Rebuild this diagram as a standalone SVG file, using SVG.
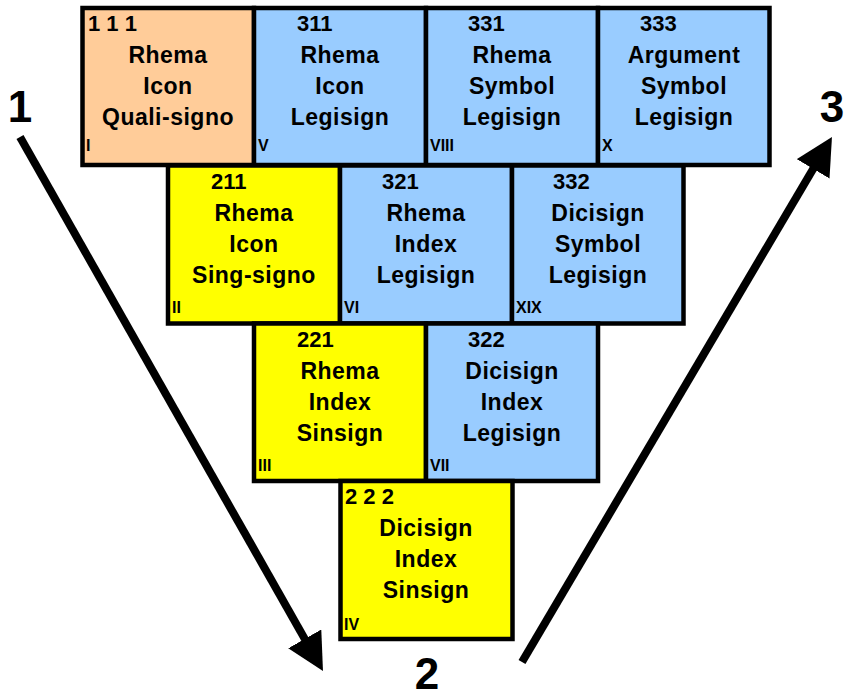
<svg xmlns="http://www.w3.org/2000/svg" width="850" height="698" viewBox="0 0 850 698">
<style>
.box{stroke:#000;stroke-width:4.5}
.o{fill:#FFCC99}.b{fill:#99CCFF}.y{fill:#FFFF00}
text{font-family:"Liberation Sans",Arial,sans-serif;font-weight:bold;fill:#000}
.num{font-size:22px}
.nm{font-size:23px;text-anchor:middle;letter-spacing:0.5px}
.rn{font-size:16px}
.big{font-size:44px;text-anchor:middle}
.arr{stroke:#000;stroke-width:8;fill:none}
</style>
<defs>
<marker id="ah" viewBox="0 0 37 38" refX="6" refY="19" markerWidth="37" markerHeight="38" markerUnits="userSpaceOnUse" orient="auto">
<path d="M0,0 L37,19 L0,38 z" fill="#000"/>
</marker>
</defs>
<rect width="850" height="698" fill="#fff"/>

<g id="n111"><rect class="box o" x="82.5" y="8" width="171.5" height="157"/>
<text class="num" x="88" y="31">1 1 1</text>
<text class="nm" x="168" y="63">Rhema</text><text class="nm" x="168" y="94">Icon</text><text class="nm" x="168" y="125">Quali-signo</text>
<text class="rn" x="86" y="151">I</text></g>

<g id="n311"><rect class="box b" x="254" y="8" width="172" height="157"/>
<text class="num" x="297" y="31">311</text>
<text class="nm" x="340" y="63">Rhema</text><text class="nm" x="340" y="94">Icon</text><text class="nm" x="340" y="125">Legisign</text>
<text class="rn" x="258" y="151">V</text></g>

<g id="n331"><rect class="box b" x="426" y="8" width="172" height="157"/>
<text class="num" x="468" y="31">331</text>
<text class="nm" x="512" y="63">Rhema</text><text class="nm" x="512" y="94">Symbol</text><text class="nm" x="512" y="125">Legisign</text>
<text class="rn" x="430" y="151">VIII</text></g>

<g id="n333"><rect class="box b" x="598" y="8" width="171.5" height="157"/>
<text class="num" x="640" y="31">333</text>
<text class="nm" x="684" y="63">Argument</text><text class="nm" x="684" y="94">Symbol</text><text class="nm" x="684" y="125">Legisign</text>
<text class="rn" x="602" y="151">X</text></g>

<g id="n211"><rect class="box y" x="168" y="165.5" width="172" height="158"/>
<text class="num" x="211" y="189">211</text>
<text class="nm" x="254" y="221">Rhema</text><text class="nm" x="254" y="252">Icon</text><text class="nm" x="254" y="283">Sing-signo</text>
<text class="rn" x="172" y="313">II</text></g>

<g id="n321"><rect class="box b" x="340" y="165.5" width="172" height="158"/>
<text class="num" x="382" y="189">321</text>
<text class="nm" x="426" y="221">Rhema</text><text class="nm" x="426" y="252">Index</text><text class="nm" x="426" y="283">Legisign</text>
<text class="rn" x="344" y="313">VI</text></g>

<g id="n332"><rect class="box b" x="512" y="165.5" width="171.5" height="158"/>
<text class="num" x="553" y="189">332</text>
<text class="nm" x="598" y="221">Dicisign</text><text class="nm" x="598" y="252">Symbol</text><text class="nm" x="598" y="283">Legisign</text>
<text class="rn" x="516" y="313">XIX</text></g>

<g id="n221"><rect class="box y" x="254" y="323.5" width="172" height="157.5"/>
<text class="num" x="297" y="347">221</text>
<text class="nm" x="340" y="379">Rhema</text><text class="nm" x="340" y="410">Index</text><text class="nm" x="340" y="441">Sinsign</text>
<text class="rn" x="258" y="471">III</text></g>

<g id="n322"><rect class="box b" x="426" y="323.5" width="172" height="157.5"/>
<text class="num" x="468" y="347">322</text>
<text class="nm" x="512" y="379">Dicisign</text><text class="nm" x="512" y="410">Index</text><text class="nm" x="512" y="441">Legisign</text>
<text class="rn" x="430" y="471">VII</text></g>

<g id="n222"><rect class="box y" x="340.5" y="481" width="172" height="158"/>
<text class="num" x="345" y="504">2 2 2</text>
<text class="nm" x="426" y="536">Dicisign</text><text class="nm" x="426" y="567">Index</text><text class="nm" x="426" y="598">Sinsign</text>
<text class="rn" x="344" y="630">IV</text></g>

<g id="connectors">
<line class="arr" x1="20" y1="137" x2="307.7" y2="644.1" marker-end="url(#ah)"/>
<line class="arr" x1="522" y1="662" x2="816.2" y2="163.7" marker-end="url(#ah)"/>
</g>

<g id="labels">
<text class="big" x="20" y="122">1</text>
<text class="big" x="427" y="689">2</text>
<text class="big" x="832" y="122">3</text>
</g>
</svg>
